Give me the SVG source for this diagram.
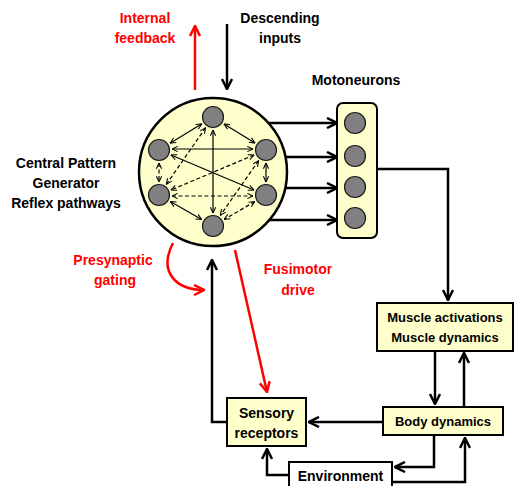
<svg xmlns="http://www.w3.org/2000/svg" width="515" height="486" viewBox="0 0 515 486">
<style>
text{font-family:"Liberation Sans",Arial,sans-serif;font-weight:bold;font-size:14px;text-anchor:middle;fill:#000}
.red{fill:#ff0000}
.m13{font-size:13px}
.box{fill:#ffffcc;stroke:#000;stroke-width:2}
.node{fill:#808080;stroke:#1a1a1a;stroke-width:1.2}
.main{fill:none;stroke:#000;stroke-width:2.5;marker-end:url(#ah)}
.redl{fill:none;stroke:#ff0000;stroke-width:2.5;marker-end:url(#ahr)}
.in{fill:none;stroke:#000;stroke-width:1.2;marker-start:url(#sh);marker-end:url(#sh)}
.dash{stroke-dasharray:4 2.5}
</style>
<defs>
<marker id="ah" viewBox="0 0 12 12" refX="11" refY="6" markerWidth="12" markerHeight="12" markerUnits="userSpaceOnUse" orient="auto">
<path d="M1,1 L11,6 L1,11" fill="none" stroke="#000" stroke-width="2.5"/>
</marker>
<marker id="ahr" viewBox="0 0 12 12" refX="11" refY="6" markerWidth="12" markerHeight="12" markerUnits="userSpaceOnUse" orient="auto">
<path d="M1,1 L11,6 L1,11" fill="none" stroke="#ff0000" stroke-width="2.5"/>
</marker>
<marker id="sh" viewBox="0 0 8 8" refX="7.5" refY="4" markerWidth="7" markerHeight="7" markerUnits="userSpaceOnUse" orient="auto-start-reverse">
<path d="M1,1 L7.5,4 L1,7" fill="none" stroke="#000" stroke-width="1.2"/>
</marker>
</defs>

<g id="cpg">
<circle cx="213" cy="172" r="74" fill="#ffffcc" stroke="#000" stroke-width="2.5"/>
</g>

<g id="internal-connectors">
<line class="in" x1="201.9" y1="123.8" x2="170.1" y2="143.2"/>
<line class="in" x1="224" y1="123.9" x2="255" y2="143.1"/>
<line class="in" x1="213" y1="130" x2="213" y2="213"/>
<line class="in" x1="172" y1="149" x2="253" y2="149"/>
<line class="in" x1="171" y1="155" x2="254" y2="190"/>
<line class="in" x1="170.3" y1="201.5" x2="201.7" y2="219.5"/>
<line class="in" x1="266" y1="163" x2="266" y2="182"/>
<line class="in dash" x1="159" y1="163" x2="159" y2="182"/>
<line class="in dash" x1="205.6" y1="127.7" x2="166.4" y2="184.3"/>
<line class="in dash" x1="254" y1="155" x2="171" y2="190"/>
<line class="in dash" x1="172" y1="196" x2="253" y2="196"/>
<line class="in dash" x1="258.6" y1="160.7" x2="220.4" y2="215.3"/>
<line class="in dash" x1="254.8" y1="201.6" x2="224.2" y2="219.4"/>
</g>

<g id="cpg-neurons">
<circle class="node" cx="213" cy="117" r="10.5"/>
<circle class="node" cx="159" cy="150" r="10.5"/>
<circle class="node" cx="266" cy="150" r="10.5"/>
<circle class="node" cx="159" cy="195" r="10.5"/>
<circle class="node" cx="266" cy="195" r="10.5"/>
<circle class="node" cx="213" cy="226" r="10.5"/>
</g>

<g id="motoneurons">
<rect class="box" x="337" y="103" width="40" height="135" rx="6"/>
<circle class="node" cx="355" cy="123" r="10.5"/>
<circle class="node" cx="355" cy="156" r="10.5"/>
<circle class="node" cx="355" cy="187" r="10.5"/>
<circle class="node" cx="355" cy="218" r="10.5"/>
</g>

<g id="muscle">
<rect class="box" x="377" y="303" width="136" height="48"/>
<text class="m13" x="445" y="322">Muscle activations</text>
<text class="m13" x="445" y="342">Muscle dynamics</text>
</g>

<g id="body">
<rect class="box" x="383" y="407" width="120" height="28"/>
<text class="m13" x="443" y="426">Body dynamics</text>
</g>

<g id="sensory">
<rect class="box" x="227" y="398" width="79" height="48"/>
<text x="266.5" y="418">Sensory</text>
<text x="266.5" y="438">receptors</text>
</g>

<g id="environment">
<rect x="289" y="462" width="103" height="30" fill="#fff" stroke="#000" stroke-width="2"/>
<text x="340.5" y="481">Environment</text>
</g>

<g id="connectors">
<line class="main" x1="227" y1="24" x2="227" y2="89"/>
<line class="redl" x1="195" y1="90" x2="195" y2="26"/>
<line class="main" x1="268.5" y1="123" x2="337" y2="123"/>
<line class="main" x1="285.5" y1="157" x2="337" y2="157"/>
<line class="main" x1="285" y1="188" x2="337" y2="188"/>
<line class="main" x1="269" y1="220" x2="337" y2="220"/>
<polyline class="main" points="377,169 448,169 448,300"/>
<line class="main" x1="435" y1="351" x2="435" y2="404"/>
<line class="main" x1="464" y1="407" x2="464" y2="353"/>
<line class="main" x1="383" y1="422" x2="309" y2="422"/>
<polyline class="main" points="227,422 212,422 212,260"/>
<polyline class="main" points="289,475 267,475 267,449"/>
<polyline class="main" points="434,435 434,467 395,467"/>
<polyline class="main" points="392,482 465,482 465,438"/>
<path class="redl" d="M173,243 C158,272 176,290 204,290"/>
<line class="redl" x1="235" y1="250" x2="267" y2="392"/>
</g>

<g id="labels">
<text class="red" x="145" y="23">Internal</text>
<text class="red" x="145" y="43">feedback</text>
<text x="280" y="23">Descending</text>
<text x="280" y="43">inputs</text>
<text x="356" y="85">Motoneurons</text>
<text x="66" y="168">Central Pattern</text>
<text x="66" y="188">Generator</text>
<text x="66" y="208">Reflex pathways</text>
<text class="red" x="113" y="265">Presynaptic</text>
<text class="red" x="115" y="285">gating</text>
<text class="red" x="298" y="274">Fusimotor</text>
<text class="red" x="298" y="295">drive</text>
</g>
</svg>
